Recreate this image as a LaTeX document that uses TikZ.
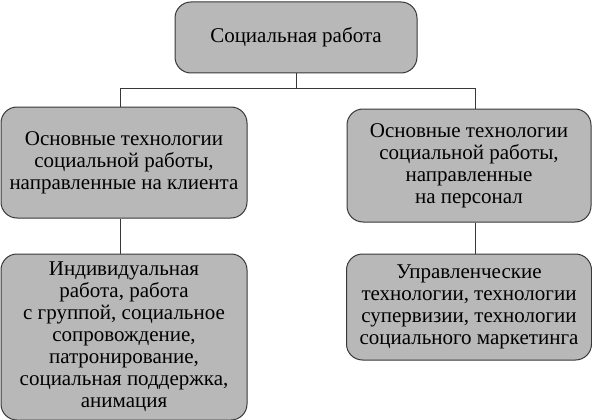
\documentclass[tikz,border=0pt]{standalone}
\usepackage{fontspec}
\setmainfont{Liberation Serif}
\newfontfamily\boxfont{Liberation Serif}
\usepackage{tikz}
\usetikzlibrary{positioning}
\definecolor{boxgray}{gray}{0.72}
\definecolor{edgegray}{gray}{0.22}

\begin{document}
\begin{tikzpicture}[x=1pt,y=-1pt,
  block/.style={draw=edgegray,fill=boxgray,line width=1pt,rounded corners=16pt,align=center,
    inner sep=0pt,font=\boxfont\fontsize{21}{22}\selectfont},
  link/.style={draw=edgegray,line width=0.8pt}]

\useasboundingbox (0,0) rectangle (592,420);

\node[block, minimum width=242pt, minimum height=71pt] (work) at (296,37.5) {Социальная работа};

\node[block, minimum width=246pt, minimum height=111pt] (client) at (124,162.5)
  {Основные технологии\\социальной работы,\\направленные на клиента};
\node[block, minimum width=244pt, minimum height=113pt] (staff) at (469,165.5)
  {Основные технологии\\социальной работы,\\направленные\\на персонал};

\node[block, minimum width=246pt, minimum height=166pt] (indiv) [below=35pt of client]
  {Индивидуальная\\работа, работа\\с группой, социальное\\сопровождение,\\патронирование,\\социальная поддержка,\\анимация};
\node[block, minimum width=245pt, minimum height=106pt] (manage) [below=31pt of staff]
  {Управленческие\\технологии, технологии\\супервизии, технологии\\социального маркетинга};

\coordinate (split) at (296,88);

\draw[link] (work.south) -- (split);
\draw[link] ([xshift=-4pt]client.north) |- (split);
\draw[link] ([xshift=6pt]staff.north) |- (split);
\draw[link] ([xshift=-4pt]client.south) -- ([xshift=-4pt]indiv.north);
\draw[link] ([xshift=6pt]staff.south) -- ([xshift=6pt]manage.north);

\end{tikzpicture}
\end{document}
